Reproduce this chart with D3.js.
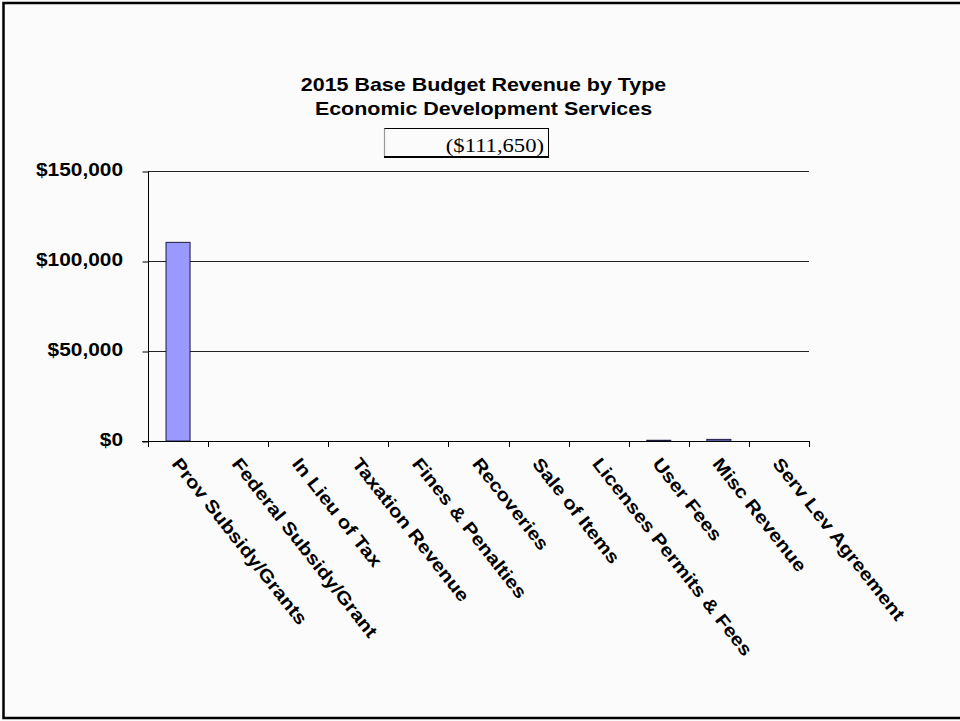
<!DOCTYPE html>
<html>
<head>
<meta charset="utf-8">
<script src="https://cdn.jsdelivr.net/npm/d3@7"></script>
<style>
  html, body { margin: 0; padding: 0; background: #fbfbfb; }
  svg { display: block; }
  .sans { font-family: "Liberation Sans", Arial, sans-serif; }
  .serif { font-family: "Liberation Serif", "Times New Roman", serif; }
</style>
</head>
<body>
<svg id="chart" width="960" height="721"></svg>
<script>
// Revenue categories and 2015 base budget amounts ($)
const categories = [
  "Prov Subsidy/Grants", "Federal Subsidy/Grant", "In Lieu of Tax",
  "Taxation Revenue", "Fines & Penalties", "Recoveries", "Sale of Items",
  "Licenses Permits & Fees", "User Fees", "Misc Revenue", "Serv Lev Agreement"
];
const revenue = [110350, 0, 0, 0, 0, 0, 0, 0, 400, 900, 0];
const yTicks = [0, 50000, 100000, 150000];
const titleLines = ["2015 Base Budget Revenue by Type", "Economic Development Services"];
const totalLabel = "($111,650)";

const svg = d3.select("#chart");
const W = 960, H = 721;
const stretch = 1.16; // wide glyph rendering of the labels

// page background and frame
svg.append("rect").attr("x", 0).attr("y", 0).attr("width", W).attr("height", H)
  .attr("fill", "#fbfbfb");
svg.append("rect").attr("x", 3.5).attr("y", 3).attr("width", 980).attr("height", 715)
  .attr("fill", "none").attr("stroke", "#000").attr("stroke-width", 2.5);

const plot = { left: 148, right: 809, top: 171, bottom: 441 };

const x = d3.scaleBand().domain(categories).range([plot.left, plot.right]).paddingInner(0).paddingOuter(0);
const y = d3.scaleLinear().domain([0, 150000]).range([plot.bottom, plot.top]);

// gridlines
svg.append("g").selectAll("line").data(yTicks.filter(d => d > 0)).join("line")
  .attr("x1", plot.left).attr("x2", plot.right)
  .attr("y1", d => y(d) + 0.5).attr("y2", d => y(d) + 0.5)
  .attr("stroke", "#222").attr("stroke-width", 1);

// y axis with ticks and money labels
const fmt = d => "$" + d3.format(",")(d);
const yAxis = svg.append("g").attr("transform", `translate(${plot.left + 0.5},0.5)`)
  .call(d3.axisLeft(y).tickValues(yTicks).tickSize(6).tickPadding(0).tickFormat(fmt));
yAxis.attr("font-family", null).attr("font-size", null);
yAxis.select(".domain").attr("stroke", "#000").attr("d", `M0,${plot.top}V${plot.bottom}`);
yAxis.selectAll(".tick line").attr("stroke", "#000");
yAxis.selectAll(".tick text")
  .attr("class", "sans")
  .attr("x", -25.5 / stretch).attr("dy", "4px")
  .attr("transform", `scale(${stretch},1)`)
  .attr("font-size", 18).attr("font-weight", "bold").attr("fill", "#000");

// bars
const bw = x.bandwidth() * 0.4;
svg.append("g").selectAll("rect").data(categories.map((c, i) => ({ c, v: revenue[i] })).filter(d => d.v > 0))
  .join("rect")
  .attr("x", d => x(d.c) + (x.bandwidth() - bw) / 2)
  .attr("width", bw)
  .attr("y", d => y(d.v))
  .attr("height", d => plot.bottom - y(d.v))
  .attr("fill", "#9999ff").attr("stroke", "#1a1a40").attr("stroke-width", 1);

// category axis line and boundary ticks
const xg = svg.append("g");
xg.append("line").attr("x1", plot.left - 6).attr("x2", plot.right)
  .attr("y1", plot.bottom + 0.5).attr("y2", plot.bottom + 0.5).attr("stroke", "#000");
const bounds = categories.map(c => x(c)).concat([x(categories[categories.length - 1]) + x.bandwidth()]);
xg.selectAll("line.tk").data(bounds).join("line").attr("class", "tk")
  .attr("x1", d => Math.round(d) + 0.5).attr("x2", d => Math.round(d) + 0.5)
  .attr("y1", plot.bottom).attr("y2", plot.bottom + 6).attr("stroke", "#000");

// rotated category labels
xg.selectAll("text.cat").data(categories).join("text").attr("class", "cat sans")
  .attr("transform", d => `translate(${x(d) + x.bandwidth() / 2 - 2},460) rotate(51.8) scale(${stretch},1)`)
  .attr("text-anchor", "start").attr("dominant-baseline", "central")
  .attr("font-size", 18).attr("font-weight", "bold").attr("fill", "#000")
  .text(d => d);

// title
svg.append("g").selectAll("text").data(titleLines).join("text")
  .attr("class", "sans")
  .attr("transform", (d, i) => `translate(483.5,${91 + i * 23.5}) scale(${stretch},1)`)
  .attr("text-anchor", "middle").attr("font-size", 18.5).attr("font-weight", "bold")
  .attr("fill", "#000").text(d => d);

// total box
const box = svg.append("g");
box.append("rect").attr("x", 384.5).attr("y", 128.5).attr("width", 164).attr("height", 28)
  .attr("fill", "#fbfbfb").attr("stroke", "#000").attr("stroke-width", 1);
box.append("line").attr("x1", 384.5).attr("x2", 384.5).attr("y1", 128.5).attr("y2", 156.5)
  .attr("stroke", "#999").attr("stroke-width", 1.2);
box.append("line").attr("x1", 384).attr("x2", 549).attr("y1", 157).attr("y2", 157)
  .attr("stroke", "#000").attr("stroke-width", 2);
box.append("text")
  .attr("class", "serif")
  .attr("transform", `translate(544,152) scale(${stretch},1)`)
  .attr("text-anchor", "end").attr("font-size", 19.5)
  .attr("fill", "#000").text(totalLabel);
</script>
</body>
</html>
